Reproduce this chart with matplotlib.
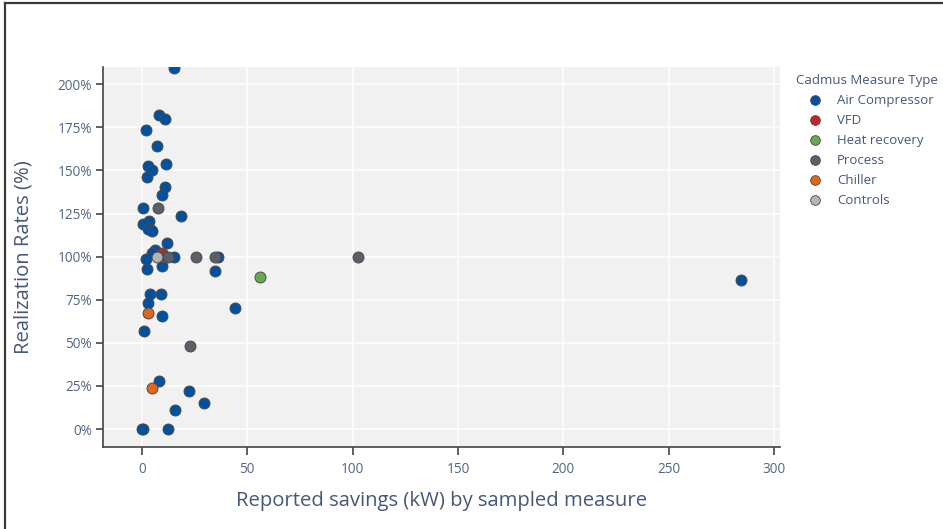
import matplotlib.pyplot as plt
from matplotlib.ticker import FuncFormatter
from matplotlib.lines import Line2D

plt.rcParams['font.family'] = ['Open Sans', 'DejaVu Sans']

# reported savings (kW) and realization rate (%) per measure type
air_kw = [15.3, 8.2, 11.0, 2.0, 7.3, 3.0, 4.7, 11.7, 2.7, 11.0, 9.8, 0.5, 18.6,
          3.5, 0.6, 4.4, 3.0, 4.9, 11.9, 6.3, 4.7, 1.9, 15.3, 36.3, 2.5, 9.8,
          34.8, 4.1, 9.0, 3.1, 9.8, 44.3, 0.9, 8.1, 22.3, 29.4, 15.9, 0.5, 0.3,
          12.3, 284.3]
air_rr = [209.6, 182.2, 179.7, 173.3, 164.4, 152.5, 150.1, 153.6, 146.1, 140.6,
          135.8, 128.3, 123.3, 120.7, 118.8, 115.5, 116.0, 115.0, 107.8, 103.9,
          102.4, 98.6, 100.0, 99.7, 93.1, 94.5, 91.4, 78.3, 78.4, 73.4, 65.5,
          70.3, 57.0, 28.0, 21.8, 15.4, 11.0, 0.0, 0.0, 0.0, 86.6]
vfd_kw = [9.8]
vfd_rr = [102.4]
heat_kw = [56.1]
heat_rr = [88.1]
proc_kw = [7.7, 10.7, 12.6, 25.9, 34.8, 22.9, 102.6]
proc_rr = [128.3, 100.0, 100.0, 100.0, 100.0, 47.9, 100.0]
chill_kw = [3.0, 5.0]
chill_rr = [67.4, 23.9]
ctrl_kw = [7.1]
ctrl_rr = [100.0]

series = [
    ('Air Compressor', air_kw, air_rr, '#0051a2'),
    ('VFD', vfd_kw, vfd_rr, '#c1272d'),
    ('Heat recovery', heat_kw, heat_rr, '#6aa84f'),
    ('Process', proc_kw, proc_rr, '#5b6068'),
    ('Chiller', chill_kw, chill_rr, '#e0661c'),
    ('Controls', ctrl_kw, ctrl_rr, '#b4b4b4'),
]

x_ticks = [0, 50, 100, 150, 200, 250, 300]
y_ticks = [0, 25, 50, 75, 100, 125, 150, 175, 200]

tick_col = '#506784'
title_col = '#45587a'

fig = plt.figure(figsize=(9.43, 5.29), dpi=100)
ax = fig.add_axes([103 / 943, 82 / 529, 677 / 943, 380 / 529])
ax.set_facecolor('#f1f1f1')

for name, xs, ys, col in series:
    ax.scatter(xs, ys, s=62, c=col, edgecolors='#4a4a4a', linewidths=0.7,
               zorder=3, label=name, clip_on=True)

ax.set_xlim(-18.4, 302.8)
ax.set_ylim(-10.4, 210)
ax.set_xticks(x_ticks)
ax.set_yticks(y_ticks)
ax.yaxis.set_major_formatter(FuncFormatter(lambda v, p: '%d%%' % v))
ax.grid(True, color='white', linewidth=1.2, zorder=0)
ax.set_axisbelow(True)

for s in ['top', 'right']:
    ax.spines[s].set_visible(False)
for s in ['left', 'bottom']:
    ax.spines[s].set_color('#444444')
    ax.spines[s].set_linewidth(1.2)

ax.tick_params(axis='both', direction='out', length=5, width=1.2,
               color='#444444', labelcolor=tick_col, labelsize=9.8, pad=3)
ax.tick_params(axis='x', length=6, pad=5)

ax.set_xlabel('Reported savings (kW) by sampled measure', fontsize=14.6,
              color=title_col, labelpad=10)
ax.set_ylabel('Realization Rates (%)', fontsize=14.6, color=title_col,
              labelpad=17)

handles = [Line2D([], [], marker='o', linestyle='', markersize=7,
                  markerfacecolor=col, markeredgecolor='#4a4a4a',
                  markeredgewidth=0.6, label=name)
           for name, xs, ys, col in series]
leg = fig.legend(handles=handles, loc='upper left',
                 bbox_to_anchor=(787 / 943, 1 - 65 / 529),
                 title='Cadmus Measure Type', frameon=False,
                 fontsize=9.5, title_fontsize=9.5, alignment='left',
                 labelspacing=0.53, handletextpad=0.2, handlelength=2.9,
                 borderpad=0.2)
for t in leg.get_texts():
    t.set_color(title_col)
leg.get_title().set_color(title_col)

# screenshot frame
fig.add_artist(Line2D([5 / 943, 5 / 943], [0, 1 - 3 / 529],
                      transform=fig.transFigure, color='#3a3a3a', linewidth=1.6))
fig.add_artist(Line2D([5 / 943, 1], [1 - 3 / 529, 1 - 3 / 529],
                      transform=fig.transFigure, color='#3a3a3a', linewidth=1.6))

fig.savefig('out.png', dpi=100)
